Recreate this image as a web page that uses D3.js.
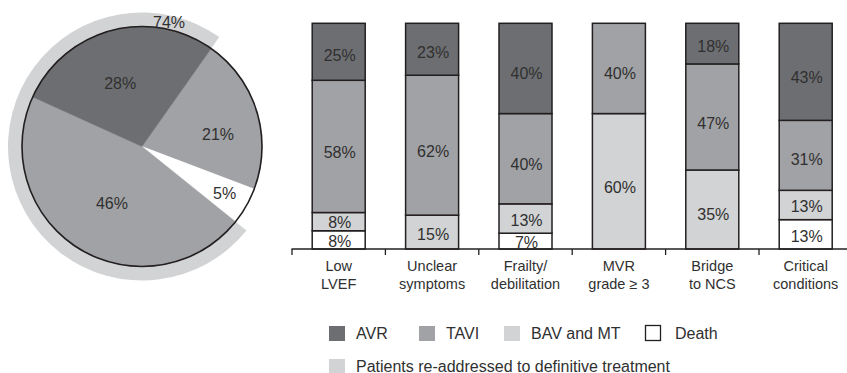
<!DOCTYPE html>
<html>
<head>
<meta charset="utf-8">
<script src="https://cdn.jsdelivr.net/npm/d3@7"></script>
<style>
  body { margin: 0; background: #fff; }
  svg { display: block; font-family: "Liberation Sans", Arial, Helvetica, sans-serif; }
</style>
</head>
<body>
<svg id="chart" width="847" height="373"></svg>
<script>
// ---- Pie: overall outcome of the cohort (clockwise from the upper right) ----
const pieValues = [21, 5, 46, 28];
const pieTone = ["mid", "none", "mid", "dark"];
// Share re-addressed to definitive treatment (AVR + TAVI slices)
const ringValue = 74;

// ---- Stacked bars: outcome by indication ----
const categories = ["Low|LVEF", "Unclear|symptoms", "Frailty/|debilitation", "MVR|grade \u2265 3", "Bridge|to NCS", "Critical|conditions"];
const seriesKeys = ["Death", "BAV and MT", "TAVI", "AVR"];   // bottom to top
const avr   = [25, 23, 40, 0, 18, 43];
const tavi  = [58, 62, 40, 40, 47, 31];
const bavMt = [8, 15, 13, 60, 35, 13];
const death = [8, 0, 7, 0, 0, 13];

const legendRow1 = ["AVR", "TAVI", "BAV and MT", "Death"];
const legendRow2 = "Patients re-addressed to definitive treatment";

// ---- styles ----
const tones = { dark: "#6d6e71", mid: "#a1a2a5", light: "#d1d3d4", none: "#ffffff" };
const seriesTone = { "AVR": "dark", "TAVI": "mid", "BAV and MT": "light", "Death": "none" };
const ink = "#231f20";
const textInk = "#303030";

const svg = d3.select("#chart");

// ================= Pie =================
const cx = 142, cy = 146.5, R = 120, ringOuter = 134;
const start = 35.2 * Math.PI / 180;
const pie = d3.pie().sort(null).value(d => d).startAngle(start).endAngle(start + 2 * Math.PI);
const slices = pie(pieValues);
const pg = svg.append("g").attr("transform", `translate(${cx},${cy})`);

// ring spanning the AVR + TAVI slices
const ringStart = slices[2].startAngle;
const ringEnd = ringStart + 2 * Math.PI * ringValue / d3.sum(pieValues);
pg.append("path")
  .attr("d", d3.arc().innerRadius(R - 4).outerRadius(ringOuter).startAngle(ringStart).endAngle(ringEnd)())
  .attr("fill", tones.light);

const arc = d3.arc().innerRadius(0).outerRadius(R);
pg.selectAll("path.slice").data(slices).join("path")
  .attr("class", "slice")
  .attr("d", arc)
  .attr("fill", (d, i) => tones[pieTone[i]])
  .attr("stroke", (d, i) => tones[pieTone[i]])
  .attr("stroke-width", 0.5);

pg.append("circle").attr("r", R).attr("fill", "none").attr("stroke", ink).attr("stroke-width", 1.6);

// label placement: [radius, angle in degrees] per slice
const pieLabelPolar = [[77, 81], [95, 119.5], [64, 208], [67, 341]];
pg.selectAll("text.plabel").data(slices).join("text")
  .attr("class", "plabel")
  .attr("x", (d, i) => pieLabelPolar[i][0] * Math.sin(pieLabelPolar[i][1] * Math.PI / 180))
  .attr("y", (d, i) => -pieLabelPolar[i][0] * Math.cos(pieLabelPolar[i][1] * Math.PI / 180))
  .attr("dy", "0.35em")
  .attr("text-anchor", "middle")
  .attr("font-size", 16)
  .attr("fill", textInk)
  .text(d => d.data + "%");

pg.append("text")
  .attr("x", 127 * Math.sin(12.3 * Math.PI / 180))
  .attr("y", -127 * Math.cos(12.3 * Math.PI / 180))
  .attr("dy", "0.35em")
  .attr("text-anchor", "middle")
  .attr("font-size", 16)
  .attr("fill", textInk)
  .text(ringValue + "%");

// ================= Stacked bars =================
const rows = categories.map((c, i) => ({
  cat: c, "AVR": avr[i], "TAVI": tavi[i], "BAV and MT": bavMt[i], "Death": death[i]
}));
const x0 = 292, step = 93.4, barW = 53;
const x = d3.scaleBand().domain(categories).range([x0, x0 + step * categories.length]).padding(0);
const y = d3.scaleLinear().domain([0, 1]).range([249, 23.3]);

const stack = d3.stack().keys(seriesKeys).offset(d3.stackOffsetExpand);
const layers = stack(rows);

const bg = svg.append("g");
layers.forEach(layer => {
  const key = layer.key;
  const segs = layer.filter(s => s[1] - s[0] > 0);
  bg.selectAll(null).data(segs).join("rect")
    .attr("x", s => x(s.data.cat) + (x.bandwidth() - barW) / 2)
    .attr("y", s => y(s[1]))
    .attr("width", barW)
    .attr("height", s => y(s[0]) - y(s[1]))
    .attr("fill", tones[seriesTone[key]])
    .attr("stroke", ink)
    .attr("stroke-width", 1.5);
  bg.selectAll(null).data(segs).join("text")
    .attr("x", s => x(s.data.cat) + x.bandwidth() / 2 + 1)
    .attr("y", s => (y(s[0]) + y(s[1])) / 2 + Math.min(6, (y(s[0]) - y(s[1])) * 0.06))
    .attr("dy", "0.35em")
    .attr("text-anchor", "middle")
    .attr("font-size", 16)
    .attr("fill", textInk)
    .text(s => s.data[key] + "%");
});

// x axis: baseline, ticks at category boundaries, two-line labels
const axis = d3.axisBottom(x).tickSize(0).tickFormat("");
const ag = svg.append("g").attr("transform", `translate(0,${y(0)})`).call(axis);
ag.select(".domain").remove();
ag.append("line").attr("x1", x0 - 0.5).attr("x2", 847).attr("stroke", ink).attr("stroke-width", 1.4);
ag.selectAll("line.tk").data(categories).join("line")
  .attr("class", "tk")
  .attr("x1", c => x(c)).attr("x2", c => x(c))
  .attr("y1", 0).attr("y2", 6)
  .attr("stroke", ink).attr("stroke-width", 1.3);
ag.selectAll(".tick").each(function (c) {
  const t = d3.select(this).append("text")
    .attr("text-anchor", "middle")
    .attr("font-size", 14.5)
    .attr("fill", textInk);
  c.split("|").forEach((line, k) => {
    t.append("tspan").attr("x", 0).attr("y", 21.5 + k * 18.5).text(line);
  });
});

// ================= Legend =================
const lg = svg.append("g");
const legendX = [329, 419, 504, 645];
const legendTextGap = 27;
legendRow1.forEach((k, i) => {
  const hollow = seriesTone[k] === "none";
  lg.append("rect")
    .attr("x", legendX[i] + (hollow ? 0.5 : 0)).attr("y", hollow ? 325.5 : 326)
    .attr("width", hollow ? 15 : 16).attr("height", 15)
    .attr("fill", tones[seriesTone[k]])
    .attr("stroke", hollow ? ink : "none")
    .attr("stroke-width", 1.3);
  lg.append("text")
    .attr("x", legendX[i] + legendTextGap + (hollow ? 3 : 0)).attr("y", 339)
    .attr("font-size", 16)
    .attr("fill", textInk)
    .text(k);
});
lg.append("rect").attr("x", 329).attr("y", 359).attr("width", 16).attr("height", 15).attr("fill", tones.light);
lg.append("text").attr("x", 356).attr("y", 371.5).attr("font-size", 16).attr("fill", textInk).text(legendRow2);
</script>
</body>
</html>
